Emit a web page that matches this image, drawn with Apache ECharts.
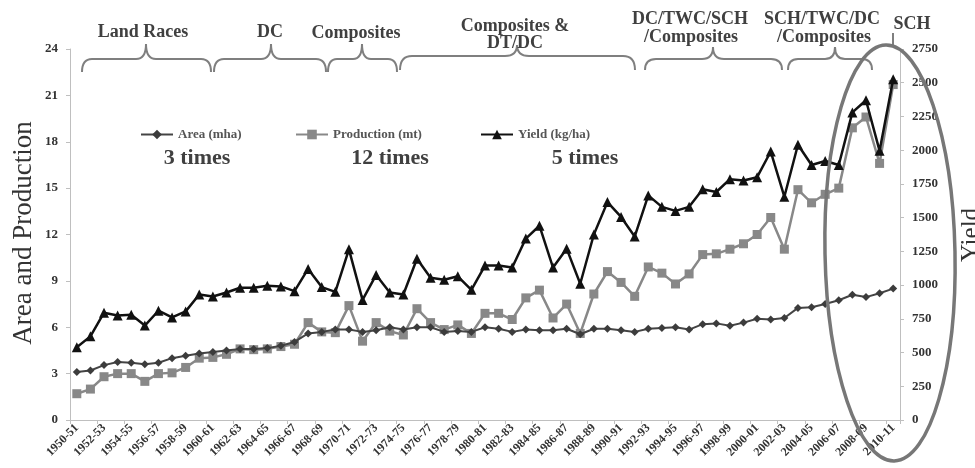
<!DOCTYPE html>
<html>
<head>
<meta charset="utf-8">
<script src="https://cdn.jsdelivr.net/npm/echarts@6/dist/echarts.min.js"></script>
<style>
  html, body { margin: 0; padding: 0; background: #ffffff; }
  #chart { width: 975px; height: 468px; }
</style>
</head>
<body>
<div id="chart"></div>
<script>
// Maize in India: area, production and yield, 1950-51 to 2010-11
const years = [
  "1950-51","1951-52","1952-53","1953-54","1954-55","1955-56","1956-57","1957-58","1958-59","1959-60",
  "1960-61","1961-62","1962-63","1963-64","1964-65","1965-66","1966-67","1967-68","1968-69","1969-70",
  "1970-71","1971-72","1972-73","1973-74","1974-75","1975-76","1976-77","1977-78","1978-79","1979-80",
  "1980-81","1981-82","1982-83","1983-84","1984-85","1985-86","1986-87","1987-88","1988-89","1989-90",
  "1990-91","1991-92","1992-93","1993-94","1994-95","1995-96","1996-97","1997-98","1998-99","1999-00",
  "2000-01","2001-02","2002-03","2003-04","2004-05","2005-06","2006-07","2007-08","2008-09","2009-10",
  "2010-11"
];

// Area (mha)
const area = [
  3.1, 3.2, 3.55, 3.75, 3.7, 3.6, 3.7, 4.0, 4.15, 4.3,
  4.4, 4.5, 4.6, 4.6, 4.65, 4.8, 5.05, 5.6, 5.7, 5.85,
  5.85, 5.7, 5.8, 6.0, 5.85, 6.0, 6.0, 5.7, 5.75, 5.7,
  6.0, 5.9, 5.7, 5.85, 5.8, 5.8, 5.9, 5.55, 5.9, 5.9,
  5.8, 5.7, 5.9, 5.95, 6.0, 5.85, 6.2, 6.25, 6.1, 6.3,
  6.55, 6.5, 6.6, 7.25, 7.3, 7.5, 7.75, 8.1, 7.95, 8.2,
  8.5
];

// Production (mt)
const production = [
  1.7, 2.0, 2.8, 3.0, 3.0, 2.5, 3.0, 3.05, 3.4, 4.0,
  4.05, 4.25, 4.6, 4.55, 4.6, 4.75, 4.9, 6.3, 5.7, 5.65,
  7.4, 5.1, 6.3, 5.75, 5.5, 7.2, 6.3, 5.85, 6.15, 5.6,
  6.9, 6.9, 6.5, 7.9, 8.4, 6.6, 7.5, 5.6, 8.15, 9.6,
  8.9, 8.0, 9.9, 9.5, 8.8, 9.45, 10.7, 10.75, 11.05, 11.4,
  12.0, 13.1, 11.05, 14.9, 14.05, 14.6, 15.0, 18.9, 19.6, 16.6,
  21.7
];

// Yield (kg/ha)
const yieldKgHa = [
  540, 620, 795, 775, 780, 700, 810, 760, 805, 930,
  915, 945, 980, 980, 995, 990, 955, 1120, 985, 950,
  1265, 890, 1075, 945, 930, 1195, 1055, 1040, 1065, 965,
  1145, 1145, 1130, 1345, 1440, 1130, 1270, 1010, 1375, 1615,
  1505, 1360, 1665, 1580, 1550, 1580, 1710, 1690, 1785, 1775,
  1800, 1990, 1655, 2040, 1890, 1920, 1890, 2280, 2370, 1995,
  2525
];

const seriesNames = ["Area (mha)", "Production (mt)", "Yield (kg/ha)"];
const growthNotes = ["3 times", "12 times", "5 times"];
const cultivarPhases = [
  ["Land Races"], ["DC"], ["Composites"], ["Composites &", "DT/DC"],
  ["DC/TWC/SCH", "/Composites"], ["SCH/TWC/DC", "/Composites"], ["SCH"]
];

const SERIF = '"Liberation Serif", "Times New Roman", serif';
const BRACE_COLOR = '#7f7f7f';

// A curly brace opening downward: hooks at xL/xR, point at xC
function brace(xL, xR, xC, yTip, yMid, yPeak, h) {
  const st = { stroke: BRACE_COLOR, lineWidth: 2, fill: null };
  const q = (x1, y1, cx, cy, x2, y2) => ({
    type: 'bezierCurve', silent: true,
    shape: { x1: x1, y1: y1, cpx1: cx, cpy1: cy, x2: x2, y2: y2 }, style: st
  });
  const l = (x1, y1, x2, y2) => ({
    type: 'line', silent: true, shape: { x1: x1, y1: y1, x2: x2, y2: y2 }, style: st
  });
  return [
    q(xL, yTip, xL, yMid, xL + h, yMid),
    l(xL + h, yMid, xC - h, yMid),
    q(xC - h, yMid, xC, yMid, xC, yPeak),
    q(xC, yPeak, xC, yMid, xC + h, yMid),
    l(xC + h, yMid, xR - h, yMid),
    q(xR - h, yMid, xR, yMid, xR, yTip)
  ];
}

function label(text, x, y, size, weight, color, extra) {
  return Object.assign({
    type: 'text', silent: true, x: x, y: y,
    style: {
      text: text, font: weight + ' ' + size + 'px ' + SERIF, fill: color,
      textAlign: 'center', textVerticalAlign: 'middle', align: 'center', verticalAlign: 'middle'
    }
  }, extra || {});
}

const graphics = [].concat(
  brace(82, 211, 146, 72, 59, 44, 10),
  brace(214, 326, 271, 72, 59, 44, 10),
  brace(328, 397, 362, 72, 59, 44, 9),
  brace(400, 635, 517, 70, 56, 45, 12),
  brace(645, 782, 713, 70, 59, 47, 11),
  brace(788, 872, 835, 70, 59, 47, 10),
  [
    { type: 'line', silent: true, shape: { x1: 893, y1: 33, x2: 893, y2: 45 },
      style: { stroke: BRACE_COLOR, lineWidth: 2 } },
    label(cultivarPhases[0][0], 143, 32, 18, 'bold', '#404040'),
    label(cultivarPhases[1][0], 270, 32, 18, 'bold', '#404040'),
    label(cultivarPhases[2][0], 356, 33, 18, 'bold', '#404040'),
    label(cultivarPhases[3][0], 515, 26, 18, 'bold', '#404040'),
    label(cultivarPhases[3][1], 515, 43, 18, 'bold', '#404040'),
    label(cultivarPhases[4][0], 690, 19, 18, 'bold', '#404040'),
    label(cultivarPhases[4][1], 691, 37, 18, 'bold', '#404040'),
    label(cultivarPhases[5][0], 822, 19, 18, 'bold', '#404040'),
    label(cultivarPhases[5][1], 824, 37, 18, 'bold', '#404040'),
    label(cultivarPhases[6][0], 912, 24, 18, 'bold', '#404040'),
    label(growthNotes[0], 197, 158, 22, 'bold', '#404040'),
    label(growthNotes[1], 390, 158, 22, 'bold', '#404040'),
    label(growthNotes[2], 585, 158, 22, 'bold', '#404040'),
    label('Area and Production', 24, 233, 27, 'normal', '#333', { rotation: Math.PI / 2 }),
    label('Yield', 971, 235, 25, 'normal', '#333', { rotation: Math.PI / 2 }),
    {
      type: 'ellipse', silent: true, x: 890, y: 253, rotation: 0.02, z: 100,
      shape: { cx: 0, cy: 0, rx: 65, ry: 208 },
      style: { stroke: '#777777', lineWidth: 3.5, fill: null }
    }
  ]
);

const axisLabelStyle = { fontFamily: SERIF, fontWeight: 'bold', fontSize: 13, color: '#333' };
const axisLineStyle = { show: true, lineStyle: { color: '#bfbfbf', width: 1 } };
const plainNumber = (v) => String(v);

function legendAt(left, name) {
  return {
    left: left, top: 128, padding: 0, itemWidth: 32, itemHeight: 12, itemGap: 5,
    data: [name], selectedMode: false,
    textStyle: { fontFamily: SERIF, fontWeight: 'bold', fontSize: 13, color: '#555' }
  };
}

const chart = echarts.init(document.getElementById('chart'), null, { renderer: 'canvas' });
chart.setOption({
  animation: false,
  backgroundColor: '#ffffff',
  grid: { left: 70, right: 75, top: 49, bottom: 48, containLabel: false },
  legend: [legendAt(140, seriesNames[0]), legendAt(295, seriesNames[1]), legendAt(480, seriesNames[2])],
  xAxis: {
    type: 'category', data: years, boundaryGap: true,
    axisLine: axisLineStyle,
    axisTick: { show: true, length: 4, lineStyle: { color: '#bfbfbf' } },
    axisLabel: Object.assign({}, axisLabelStyle, { fontSize: 12, interval: 1, rotate: 45, margin: 6 }),
    splitLine: { show: false }
  },
  yAxis: [
    {
      type: 'value', min: 0, max: 24, interval: 3, position: 'left',
      axisLine: axisLineStyle,
      axisTick: { show: true, length: 4, lineStyle: { color: '#bfbfbf' } },
      axisLabel: Object.assign({}, axisLabelStyle, { margin: 12, formatter: plainNumber }),
      splitLine: { show: false }
    },
    {
      type: 'value', min: 0, max: 2750, interval: 250, position: 'right',
      axisLine: axisLineStyle,
      axisTick: { show: true, length: 4, lineStyle: { color: '#bfbfbf' } },
      axisLabel: Object.assign({}, axisLabelStyle, { margin: 12, formatter: plainNumber }),
      splitLine: { show: false }
    }
  ],
  series: [
    {
      name: seriesNames[1], type: 'line', yAxisIndex: 0, data: production,
      symbol: 'rect', symbolSize: 9, showAllSymbol: true,
      itemStyle: { color: '#888888' }, lineStyle: { color: '#888888', width: 2.5 }, z: 2
    },
    {
      name: seriesNames[0], type: 'line', yAxisIndex: 0, data: area,
      symbol: 'diamond', symbolSize: 8, showAllSymbol: true,
      itemStyle: { color: '#3c3c3c' }, lineStyle: { color: '#444444', width: 2 }, z: 3
    },
    {
      name: seriesNames[2], type: 'line', yAxisIndex: 1, data: yieldKgHa,
      symbol: 'triangle', symbolSize: 10, showAllSymbol: true,
      itemStyle: { color: '#111111' }, lineStyle: { color: '#111111', width: 2.5 }, z: 4
    }
  ],
  graphic: { elements: graphics }
});
</script>
</body>
</html>
